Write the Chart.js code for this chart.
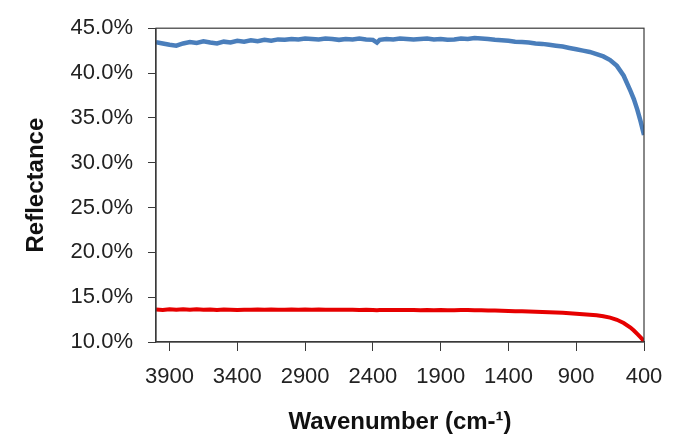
<!DOCTYPE html>
<html>
<head>
<meta charset="utf-8">
<script src="https://cdn.jsdelivr.net/npm/chart.js@4/dist/chart.umd.min.js"></script>
<style>
  html, body { margin: 0; padding: 0; background: #fff; }
  #wrap { width: 678px; height: 445px; position: relative; }
</style>
</head>
<body>
<div id="wrap"><canvas id="refl-chart"></canvas></div>
<script>
/* ── Data ───────────────────────────────────────────────── */
const wavenumbers = [
  4000, 3950, 3900, 3850, 3800, 3750, 3700, 3650, 3600, 3550,
  3500, 3450, 3400, 3350, 3300, 3250, 3200, 3150, 3100, 3050,
  3000, 2950, 2900, 2850, 2800, 2750, 2700, 2650, 2600, 2550,
  2500, 2450, 2400, 2370, 2350, 2300, 2250, 2200, 2150, 2100,
  2050, 2000, 1950, 1900, 1850, 1800, 1750, 1700, 1650, 1600,
  1550, 1500, 1450, 1400, 1350, 1300, 1250, 1200, 1150, 1100,
  1050, 1000, 950, 900, 850, 800, 750, 700, 650, 600,
  550, 500, 475, 450, 425, 400
];

const blueReflectance = [
  43.45, 43.30, 43.15, 43.05, 43.30, 43.45, 43.35, 43.55, 43.40, 43.30,
  43.50, 43.40, 43.60, 43.50, 43.65, 43.55, 43.70, 43.60, 43.75, 43.70,
  43.80, 43.75, 43.85, 43.80, 43.75, 43.85, 43.80, 43.70, 43.80, 43.75,
  43.85, 43.75, 43.70, 43.40, 43.70, 43.80, 43.75, 43.85, 43.80, 43.75,
  43.80, 43.85, 43.75, 43.80, 43.70, 43.75, 43.85, 43.80, 43.90, 43.85,
  43.80, 43.70, 43.65, 43.60, 43.50, 43.45, 43.40, 43.30, 43.25, 43.15,
  43.05, 42.95, 42.80, 42.65, 42.50, 42.35, 42.10, 41.85, 41.45, 40.80,
  39.70, 38.00, 37.10, 35.95, 34.60, 33.10
];

const redReflectance = [
  13.62, 13.58, 13.66, 13.60, 13.65, 13.59, 13.64, 13.60, 13.63, 13.58,
  13.62, 13.60, 13.57, 13.61, 13.59, 13.62, 13.60, 13.63, 13.61, 13.60,
  13.62, 13.60, 13.63, 13.61, 13.62, 13.60, 13.61, 13.59, 13.61, 13.60,
  13.58, 13.60, 13.58, 13.55, 13.56, 13.58, 13.57, 13.58, 13.56, 13.57,
  13.55, 13.56, 13.55, 13.56, 13.54, 13.55, 13.56, 13.57, 13.55, 13.53,
  13.52, 13.50, 13.48, 13.46, 13.44, 13.42, 13.40, 13.38, 13.35, 13.32,
  13.29, 13.25, 13.20, 13.15, 13.10, 13.05, 12.98, 12.88, 12.72, 12.48,
  12.12, 11.62, 11.28, 10.90, 10.52, 10.10
];

const xTickValues = [3900, 3400, 2900, 2400, 1900, 1400, 900, 400];
const yTickValues = [10, 15, 20, 25, 30, 35, 40, 45];

/* ── Chart ──────────────────────────────────────────────── */
Chart.defaults.font.family = '"Liberation Sans", Arial, sans-serif';
Chart.defaults.color = '#222';

const AXIS_COLOR = '#3a3a3a';

const frameBox = {
  id: 'frameBox',
  afterDatasetsDraw(chart) {
    const { ctx, chartArea: a } = chart;
    ctx.save();
    ctx.strokeStyle = AXIS_COLOR;
    ctx.lineWidth = 1.2;
    ctx.strokeRect(a.left, a.top, a.right - a.left, a.bottom - a.top);
    ctx.restore();
  }
};

const toPoints = vals => wavenumbers.map((w, i) => ({ x: w, y: vals[i] }));

new Chart(document.getElementById('refl-chart'), {
  type: 'line',
  data: {
    datasets: [
      {
        label: 'Blue sample',
        data: toPoints(blueReflectance),
        borderColor: '#4A7EBB',
        borderWidth: 4.5,
        pointRadius: 0,
        tension: 0,
      },
      {
        label: 'Red sample',
        data: toPoints(redReflectance),
        borderColor: '#E60000',
        borderWidth: 4,
        pointRadius: 0,
        tension: 0,
      }
    ]
  },
  options: {
    responsive: true,
    maintainAspectRatio: false,
    animation: false,
    layout: { padding: { top: 26, right: 34, left: 0, bottom: 0 } },
    plugins: {
      legend: { display: false },
      tooltip: { enabled: false }
    },
    scales: {
      x: {
        type: 'linear',
        reverse: true,
        min: 400,
        max: 4000,
        afterBuildTicks: s => { s.ticks = xTickValues.map(v => ({ value: v })); },
        afterFit: s => { s.height = 103; },
        grid: { drawOnChartArea: false, tickLength: 9, color: AXIS_COLOR },
        border: { color: AXIS_COLOR, width: 1.2 },
        ticks: { font: { size: 22 }, padding: 13, maxRotation: 0, autoSkip: false, callback: v => String(v) },
        title: {
          display: true,
          text: 'Wavenumber (cm-¹)',
          font: { size: 24, weight: 'bold' },
          color: '#111',
          padding: { top: 0, bottom: 8 }
        }
      },
      y: {
        min: 10,
        max: 45,
        afterBuildTicks: s => { s.ticks = yTickValues.map(v => ({ value: v })); },
        afterFit: s => { s.width = 156; },
        grid: { drawOnChartArea: false, tickLength: 8, color: AXIS_COLOR },
        border: { color: AXIS_COLOR, width: 1.2 },
        ticks: { font: { size: 22 }, padding: 15, callback: v => v.toFixed(1) + '%' },
        title: {
          display: true,
          text: 'Reflectance',
          font: { size: 24, weight: 'bold' },
          color: '#111',
          padding: { top: 22, bottom: 0 }
        }
      }
    }
  },
  plugins: [frameBox]
});
</script>
</body>
</html>
